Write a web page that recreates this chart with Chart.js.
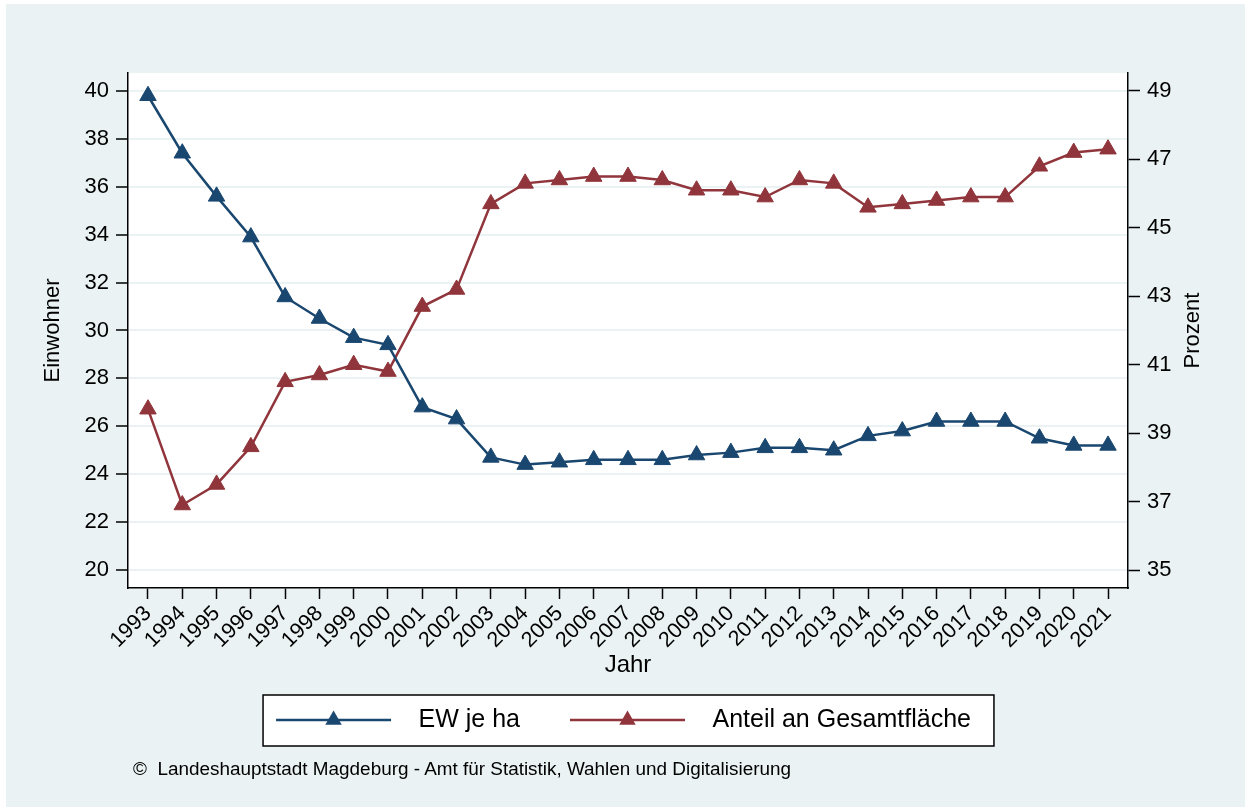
<!DOCTYPE html>
<html lang="de">
<head>
<meta charset="utf-8">
<title>EW je ha / Anteil an Gesamtfläche</title>
<script src="https://cdn.jsdelivr.net/npm/chart.js@4.4.1/dist/chart.umd.min.js"></script>
<style>
  body { margin: 0; background: #fff; }
  #wrap { position: relative; width: 1245px; height: 807px; }
  #source {
    position: absolute; left: 133px; top: 758px;
    font: 18.9px "Liberation Sans", Arial, sans-serif; line-height: 22px; color: #000;
    white-space: nowrap;
  }
</style>
</head>
<body>
<div id="wrap">
  <canvas id="chart" width="1245" height="807"></canvas>
  <div id="source">©&nbsp; Landeshauptstadt Magdeburg - Amt für Statistik, Wahlen und Digitalisierung</div>
</div>
<script>
const years = [1993, 1994, 1995, 1996, 1997, 1998, 1999, 2000, 2001, 2002, 2003, 2004, 2005, 2006, 2007,
               2008, 2009, 2010, 2011, 2012, 2013, 2014, 2015, 2016, 2017, 2018, 2019, 2020, 2021];
// Einwohner je ha (linke Achse)
const ewJeHa = [39.8, 37.4, 35.6, 33.9, 31.4, 30.5, 29.7, 29.4, 26.8, 26.3, 24.7, 24.4, 24.5, 24.6, 24.6,
                24.6, 24.8, 24.9, 25.1, 25.1, 25.0, 25.6, 25.8, 26.2, 26.2, 26.2, 25.5, 25.2, 25.2];
// Anteil an Gesamtfläche in Prozent (rechte Achse)
const anteil = [39.7, 36.9, 37.5, 38.6, 40.5, 40.7, 41.0, 40.8, 42.7, 43.2, 45.7, 46.3, 46.4, 46.5, 46.5,
                46.4, 46.1, 46.1, 45.9, 46.4, 46.3, 45.6, 45.7, 45.8, 45.9, 45.9, 46.8, 47.2, 47.3];
const leftTicks = [20, 22, 24, 26, 28, 30, 32, 34, 36, 38, 40];
const rightTicks = [35, 37, 39, 41, 43, 45, 47, 49];

const NAVY = '#1A476F';
const MAROON = '#90353B';
const BG = '#EAF2F3';
const FONT = '"Liberation Sans", Arial, sans-serif';

// legend symbol: line with triangle, drawn into a small canvas
function legendSymbol(color) {
    const c = document.createElement('canvas');
    c.width = 170;
    c.height = 24;
    const g = c.getContext('2d');
    g.strokeStyle = color;
    g.lineWidth = 2.5;
    g.beginPath();
    g.moveTo(40, 12);
    g.lineTo(155, 12);
    g.stroke();
    const r = 9.5, cx = 97.5, cy = 12;
    g.fillStyle = color;
    g.beginPath();
    g.moveTo(cx, cy - r);
    g.lineTo(cx + r * Math.sin(Math.PI * 2 / 3), cy - r * Math.cos(Math.PI * 2 / 3));
    g.lineTo(cx + r * Math.sin(Math.PI * 4 / 3), cy - r * Math.cos(Math.PI * 4 / 3));
    g.closePath();
    g.fill();
    return c;
}
const symbols = [legendSymbol(NAVY), legendSymbol(MAROON)];

const background = {
    id: 'background',
    beforeDraw(chart) {
        const { ctx, chartArea } = chart;
        ctx.save();
        ctx.fillStyle = '#fff';
        ctx.fillRect(0, 0, chart.width, chart.height);
        ctx.fillStyle = BG;
        ctx.fillRect(6, 4, chart.width - 6, chart.height - 4);
        ctx.fillStyle = '#fff';
        ctx.fillRect(chartArea.left, chartArea.top, chartArea.right - chartArea.left, chartArea.bottom - chartArea.top);

        // frame around the legend
        const boxes = chart.legend.legendHitBoxes;
        if (boxes && boxes.length) {
            const first = boxes[0], last = boxes[boxes.length - 1];
            const x0 = first.left + 40 - 13;
            const x1 = last.left + last.width + 23;
            const y0 = first.top - 12.5;
            const y1 = first.top + first.height + 13.5;
            ctx.fillStyle = '#fff';
            ctx.fillRect(x0, y0, x1 - x0, y1 - y0);
            ctx.strokeStyle = '#000';
            ctx.lineWidth = 1.5;
            ctx.strokeRect(x0, y0, x1 - x0, y1 - y0);
        }
        ctx.restore();
    }
};

// right axis title reads bottom-to-top like the left one
const rightTitle = {
    id: 'rightTitle',
    afterDraw(chart) {
        const { ctx, chartArea } = chart;
        ctx.save();
        ctx.translate(1193, (chartArea.top + chartArea.bottom) / 2);
        ctx.rotate(-Math.PI / 2);
        ctx.font = '22px ' + FONT;
        ctx.fillStyle = '#000';
        ctx.textAlign = 'center';
        ctx.textBaseline = 'middle';
        ctx.fillText('Prozent', 0, 0);
        ctx.restore();
    }
};

const ticksFrom = (list) => (scale) => { scale.ticks = list.map(v => ({ value: v })); };

new Chart(document.getElementById('chart'), {
    type: 'line',
    data: {
        datasets: [
            {
                label: 'EW je ha',
                data: years.map((y, i) => ({ x: y, y: ewJeHa[i] })),
                yAxisID: 'y',
                borderColor: NAVY,
                backgroundColor: NAVY,
                borderWidth: 2.5,
                pointStyle: 'triangle',
                pointRadius: 9.5,
                pointBorderWidth: 1,
                pointBackgroundColor: NAVY,
                pointBorderColor: NAVY,
                tension: 0
            },
            {
                label: 'Anteil an Gesamtfläche',
                data: years.map((y, i) => ({ x: y, y: anteil[i] })),
                yAxisID: 'y1',
                borderColor: MAROON,
                backgroundColor: MAROON,
                borderWidth: 2.5,
                pointStyle: 'triangle',
                pointRadius: 9.5,
                pointBorderWidth: 1,
                pointBackgroundColor: MAROON,
                pointBorderColor: MAROON,
                tension: 0
            }
        ]
    },
    options: {
        responsive: false,
        animation: false,
        layout: { padding: { left: 0, right: 38, top: 73, bottom: 64.5 } },
        scales: {
            x: {
                type: 'linear',
                min: 1992.417,
                max: 2021.583,
                afterBuildTicks: ticksFrom(years),
                afterFit: (scale) => { scale.height = 109.5; },
                grid: { drawOnChartArea: false, tickLength: 11, tickColor: '#000', tickWidth: 1.5 },
                border: { color: '#000', width: 1.5 },
                ticks: {
                    autoSkip: false,
                    minRotation: 45,
                    maxRotation: 45,
                    padding: 2,
                    color: '#000',
                    font: { family: FONT, size: 21.5 },
                    callback: (v) => String(v)
                },
                title: {
                    display: true,
                    text: 'Jahr',
                    color: '#000',
                    font: { family: FONT, size: 24 },
                    padding: { top: 4, bottom: 17.5 }
                }
            },
            y: {
                position: 'left',
                min: 19.248,
                max: 40.75,
                afterBuildTicks: ticksFrom(leftTicks),
                afterFit: (scale) => { scale.width = 128; },
                grid: { color: BG, lineWidth: 2, tickLength: 12, tickColor: '#000', tickWidth: 1.5 },
                border: { color: '#000', width: 1.5 },
                ticks: { padding: 7, color: '#000', font: { family: FONT, size: 22 }, callback: (v) => String(v) },
                title: {
                    display: true,
                    text: 'Einwohner',
                    color: '#000',
                    font: { family: FONT, size: 22 },
                    padding: { top: 40, bottom: 0 }
                }
            },
            y1: {
                position: 'right',
                min: 34.474,
                max: 49.526,
                afterBuildTicks: ticksFrom(rightTicks),
                afterFit: (scale) => { scale.width = 79; },
                grid: { drawOnChartArea: false, tickLength: 12, tickColor: '#000', tickWidth: 1.5 },
                border: { color: '#000', width: 1.5 },
                ticks: { padding: 7, color: '#000', font: { family: FONT, size: 22 }, callback: (v) => String(v) }
            }
        },
        plugins: {
            tooltip: { enabled: false },
            legend: {
                position: 'bottom',
                labels: {
                    usePointStyle: true,
                    pointStyleWidth: 170,
                    padding: 10,
                    color: '#000',
                    font: { family: FONT, size: 25 },
                    generateLabels(chart) {
                        const items = Chart.defaults.plugins.legend.labels.generateLabels(chart);
                        items.forEach((it, i) => { it.pointStyle = symbols[i]; });
                        return items;
                    }
                }
            }
        }
    },
    plugins: [background, rightTitle]
});
</script>
</body>
</html>
